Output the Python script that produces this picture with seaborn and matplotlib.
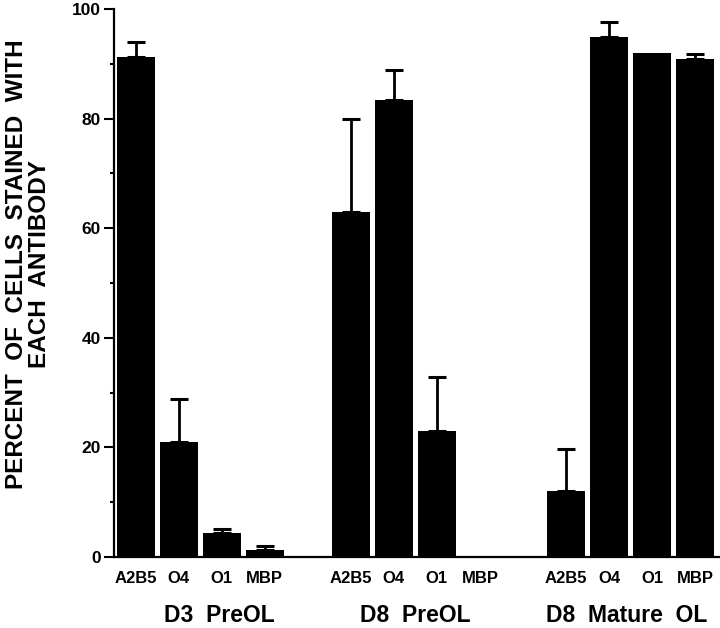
import numpy as np
import pandas as pd
import matplotlib
matplotlib.use("Agg")
import matplotlib.pyplot as plt
import seaborn as sns

# ---- data ----
groups = ["D3  PreOL", "D8  PreOL", "D8  Mature  OL"]
antibodies = ["A2B5", "O4", "O1", "MBP"]
d3_pre_mean = [91.2, 20.9, 4.3, 1.2]
d3_pre_err = [2.7, 8.0, 0.8, 0.9]
d8_pre_mean = [62.9, 83.4, 23.0, 0.0]
d8_pre_err = [17.1, 5.4, 9.8, np.nan]
d8_mat_mean = [12.1, 94.9, 91.9, 90.9]
d8_mat_err = [7.6, 2.8, np.nan, 0.8]
yticks = [0, 20, 40, 60, 80, 100]
ylabel = "PERCENT  OF  CELLS  STAINED  WITH\nEACH  ANTIBODY"

means = [d3_pre_mean, d8_pre_mean, d8_mat_mean]
errs = [d3_pre_err, d8_pre_err, d8_mat_err]

rows = []
order = []
ticklabels = []
for gi, g in enumerate(groups):
    for ai, a in enumerate(antibodies):
        key = f"{g}|{a}"
        rows.append({"key": key, "group": g, "antibody": a,
                     "value": means[gi][ai], "err": errs[gi][ai]})
        order.append(key)
        ticklabels.append(a)
    if gi < len(groups) - 1:
        order.append(f"gap{gi}")
        ticklabels.append("")
df = pd.DataFrame(rows)

sns.set_theme(style="white")
plt.rcParams["font.family"] = ["Liberation Sans", "DejaVu Sans"]
plt.rcParams["font.weight"] = "bold"
for k in ["text.color", "axes.labelcolor", "xtick.color", "ytick.color", "axes.edgecolor"]:
    plt.rcParams[k] = "black"

fig = plt.figure(figsize=(7.2, 6.28), dpi=100)
ax = fig.add_axes([0.158, 0.113, 0.842, 0.8727])

sns.barplot(data=df, x="key", y="value", order=order, color="black",
            saturation=1, width=0.88, errorbar=None, ax=ax,
            edgecolor="none", linewidth=0)

pos = np.array([order.index(k) for k in df["key"]])
err = df["err"].to_numpy()
mask = ~np.isnan(err)
ax.errorbar(pos[mask], df["value"].to_numpy()[mask],
            yerr=[np.zeros(mask.sum()), err[mask]],
            fmt="none", ecolor="black", elinewidth=2.0,
            capsize=6.5, capthick=2.2)

ax.set_xlim(-0.51, len(order) - 1 + 0.58)
ax.set_ylim(0, 100)
ax.set_yticks(yticks)
ax.set_yticks([10, 30, 50, 70, 90], minor=True)
ax.set_yticklabels([str(t) for t in yticks], fontsize=12.5, fontweight="bold",
                   color="black")
ax.set_xticks(range(len(order)))
ax.set_xticklabels(ticklabels, fontsize=12, fontweight="bold", color="black")
ax.tick_params(axis="x", length=0, pad=10)
ax.tick_params(axis="y", which="major", direction="out", length=7.5,
               width=1.5, color="black", pad=2, left=True)
ax.tick_params(axis="y", which="minor", direction="out", length=3,
               width=1.5, color="black", left=True)
ax.set_xlabel("")
ax.set_ylabel(ylabel, fontsize=17.5, fontweight="bold", linespacing=1.0,
              color="black")
ax.yaxis.set_label_coords(-0.104, 0.535)

for side in ["top", "right"]:
    ax.spines[side].set_visible(False)
for side in ["left", "bottom"]:
    ax.spines[side].set_linewidth(1.6)
    ax.spines[side].set_color("black")

# group labels
offsets = [0.45, 0.0, -0.1]
for gi, g in enumerate(groups):
    slots = [order.index(f"{g}|{a}") for a in antibodies]
    cx = np.mean(slots) + offsets[gi]
    ax.text(cx, -0.106, g, transform=ax.get_xaxis_transform(),
            ha="center", va="center", fontsize=16.5, fontweight="bold",
            color="black")

fig.savefig("out.png", dpi=100)
